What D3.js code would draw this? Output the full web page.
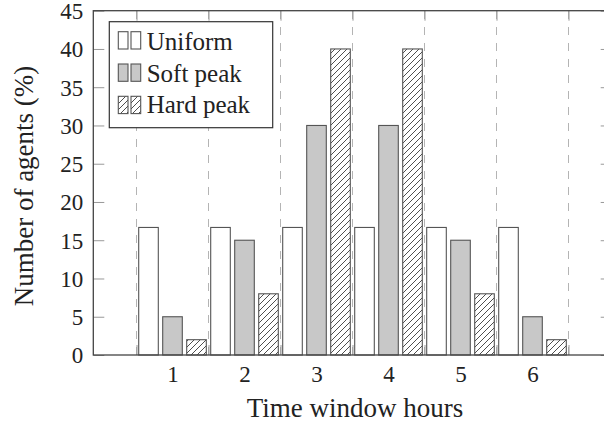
<!DOCTYPE html>
<html>
<head>
<meta charset="utf-8">
<script src="https://cdn.jsdelivr.net/npm/d3@7"></script>
<style>
  html, body { margin: 0; padding: 0; background: #fff; }
  svg { display: block; }
  text { font-family: "Liberation Serif", "Times New Roman", serif; fill: #222; }
</style>
</head>
<body>
<script>
// ---- data ----
const categories = [1, 2, 3, 4, 5, 6];
const uniform = [16.67, 16.67, 16.67, 16.67, 16.67, 16.67];
const softPeak = [5, 15, 30, 30, 15, 5];
const hardPeak = [2, 8, 40, 40, 8, 2];
const seriesNames = ["Uniform", "Soft peak", "Hard peak"];
const yTicks = [0, 5, 10, 15, 20, 25, 30, 35, 40, 45];
const gridTicks = [0.5, 1.5, 2.5, 3.5, 4.5, 5.5, 6.5];

const W = 604, H = 427;
const svg = d3.select("body").append("svg").attr("width", W).attr("height", H);

const defs = svg.append("defs");
const pat = defs.append("pattern").attr("id", "hatch")
  .attr("patternUnits", "userSpaceOnUse").attr("width", 6).attr("height", 6);
pat.append("rect").attr("width", 6).attr("height", 6).attr("fill", "#fff");
pat.append("path").attr("d", "M0,6 L6,0 M-1,1 L1,-1 M5,7 L7,5")
  .attr("stroke", "#222").attr("stroke-width", 0.8);

const x = d3.scaleLinear().domain([-0.1, 7.1]).range([93.3, 611.7]);
const y = d3.scaleLinear().domain([0, 45]).range([355, 10.7]);
const pL = x.range()[0], pR = x.range()[1], pT = y.range()[1], pB = y.range()[0];

// grid lines
svg.append("g").selectAll("line").data(gridTicks).join("line")
  .attr("x1", d => x(d)).attr("x2", d => x(d))
  .attr("y1", pB).attr("y2", pT)
  .attr("stroke", "#b4b4b4").attr("stroke-width", 1)
  .attr("stroke-dasharray", "8,8");

// bars
const series = [
  { name: seriesNames[0], values: uniform, off: -1/3, fill: "#fff" },
  { name: seriesNames[1], values: softPeak, off: 0, fill: "#c8c8c8" },
  { name: seriesNames[2], values: hardPeak, off: 1/3, fill: "url(#hatch)" }
];
const barW = 19.6;
series.forEach(s => {
  svg.append("g").selectAll("rect").data(categories).join("rect")
    .attr("x", (c) => x(c + s.off) - barW / 2)
    .attr("width", barW)
    .attr("y", (c, i) => y(s.values[i]))
    .attr("height", (c, i) => pB - y(s.values[i]))
    .attr("fill", s.fill)
    .attr("stroke", "#555").attr("stroke-width", 1.1);
});

// y axis left
const yAxis = svg.append("g").attr("transform", `translate(${pL},0)`)
  .call(d3.axisLeft(y).tickValues(yTicks).tickSize(-11).tickPadding(10).tickFormat(d3.format("d")));
yAxis.select(".domain").remove();
yAxis.selectAll(".tick line").attr("stroke", "#999").attr("stroke-width", 1);
yAxis.selectAll("text").attr("font-size", 23).attr("fill", "#222")
  .style("font-family", "Liberation Serif").attr("dy", "0.34em");

// y axis right (mirror ticks)
const yAxisR = svg.append("g").attr("transform", `translate(${pR},0)`)
  .call(d3.axisRight(y).tickValues(yTicks).tickSize(-11).tickFormat(""));
yAxisR.select(".domain").remove();
yAxisR.selectAll(".tick line").attr("stroke", "#999");

// x ticks at half-integers (top and bottom)
const xT = svg.append("g").attr("transform", `translate(0,${pB})`)
  .call(d3.axisBottom(x).tickValues(gridTicks).tickSize(-10).tickFormat(""));
xT.select(".domain").remove();
xT.selectAll(".tick line").attr("stroke", "#999");
const xTT = svg.append("g").attr("transform", `translate(0,${pT})`)
  .call(d3.axisTop(x).tickValues(gridTicks).tickSize(-10).tickFormat(""));
xTT.select(".domain").remove();
xTT.selectAll(".tick line").attr("stroke", "#999");

// x labels at integers
const xL = svg.append("g").attr("transform", `translate(0,${pB})`)
  .call(d3.axisBottom(x).tickValues(categories).tickSize(0).tickPadding(0).tickFormat(d3.format("d")));
xL.select(".domain").remove();
xL.selectAll("text").attr("font-size", 23).attr("fill", "#222")
  .style("font-family", "Liberation Serif").attr("dy", null).attr("y", 27);

// frame
svg.append("rect").attr("x", pL).attr("y", pT)
  .attr("width", pR - pL).attr("height", pB - pT)
  .attr("fill", "none").attr("stroke", "#444").attr("stroke-width", 1.3);

// axis titles
svg.append("text").attr("x", 355).attr("y", 417)
  .attr("text-anchor", "middle").attr("font-size", 27).text("Time window hours");
svg.append("text").attr("transform", "translate(33,186) rotate(-90)")
  .attr("text-anchor", "middle").attr("font-size", 27).text("Number of agents (%)");

// legend
const lg = svg.append("g");
lg.append("rect").attr("x", 109.3).attr("y", 21.7).attr("width", 163.4).attr("height", 106)
  .attr("fill", "#fff").attr("stroke", "#333").attr("stroke-width", 1.2);
series.forEach((s, i) => {
  const ry = 31.7 + i * 32.3;
  [118.3, 131].forEach(rx => {
    lg.append("rect").attr("x", rx).attr("y", ry).attr("width", 9.7).attr("height", 17.3)
      .attr("fill", s.fill).attr("stroke", "#555").attr("stroke-width", 1.1);
  });
  lg.append("text").attr("x", 146.7).attr("y", 50 + i * 31.7).attr("font-size", 25).text(s.name);
});
</script>
</body>
</html>
